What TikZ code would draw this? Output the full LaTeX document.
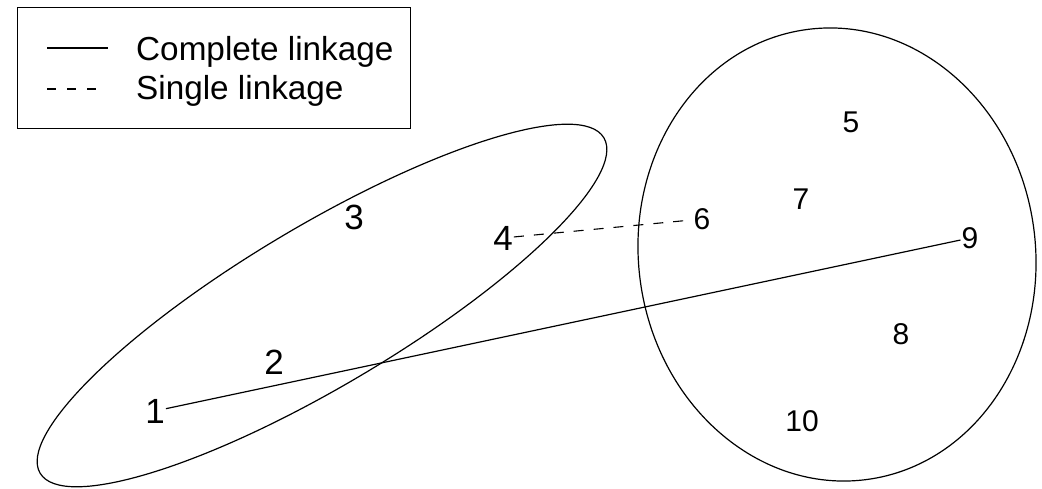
\documentclass[tikz,border=0pt]{standalone}
\usepackage{fontspec}
\setmainfont{Liberation Sans}
\begin{document}
\begin{tikzpicture}[x=1pt,y=1pt,
  line/.style={line width=1.2pt},
  dashline/.style={line width=1.1pt, dash pattern=on 10pt off 10pt},
  bigpt/.style={inner sep=1pt, font=\fontsize{35}{40}\selectfont},
  smallpt/.style={inner sep=1pt, font=\fontsize{30}{36}\selectfont},
  legtext/.style={inner sep=0pt, anchor=base west, font=\fontsize{33.3}{40}\selectfont}]
\useasboundingbox (0,0) rectangle (1042,488);
% legend
\node[draw, line width=1.2pt, minimum width=393pt, minimum height=121pt, inner sep=0pt, anchor=north west] (legend) at (17,481) {};
\coordinate (ls1) at (47,440);
\coordinate (ls2) at (108,440);
\coordinate (ld1) at (47,399);
\coordinate (ld2) at (97,399);
\draw[line] (ls1) -- (ls2);
\draw[dashline, dash pattern=on 9pt off 11pt] (ld1) -- (ld2);
\node[legtext] (lc) at (136,427) {Complete linkage};
\node[legtext] (lsn) at (136,388) {Single linkage};
% clusters
\draw[line, rotate around={30.75:(322,182.5)}] (322,182.5) ellipse [x radius=328pt, y radius=80pt];
\draw[line, rotate around={7.6:(837,233.5)}] (837,233.5) ellipse [x radius=198.5pt, y radius=227pt];
% points
\node[bigpt] (n1) at (155,77) {1};
\node[bigpt] (n2) at (274,126) {2};
\node[bigpt] (n3) at (354,271) {3};
\node[bigpt] (n4) at (503,250) {4};
\node[smallpt] (n5) at (851,366) {5};
\node[smallpt] (n6) at (702,269) {6};
\node[smallpt] (n7) at (801,289) {7};
\node[smallpt] (n8) at (901,154) {8};
\node[smallpt] (n9) at (970,250) {9};
\node[smallpt] (n10) at (802,67) {10};
% connectors
\draw[line] (n1) -- (n9);
\draw[dashline] (n4) -- (n6);
\end{tikzpicture}
\end{document}
